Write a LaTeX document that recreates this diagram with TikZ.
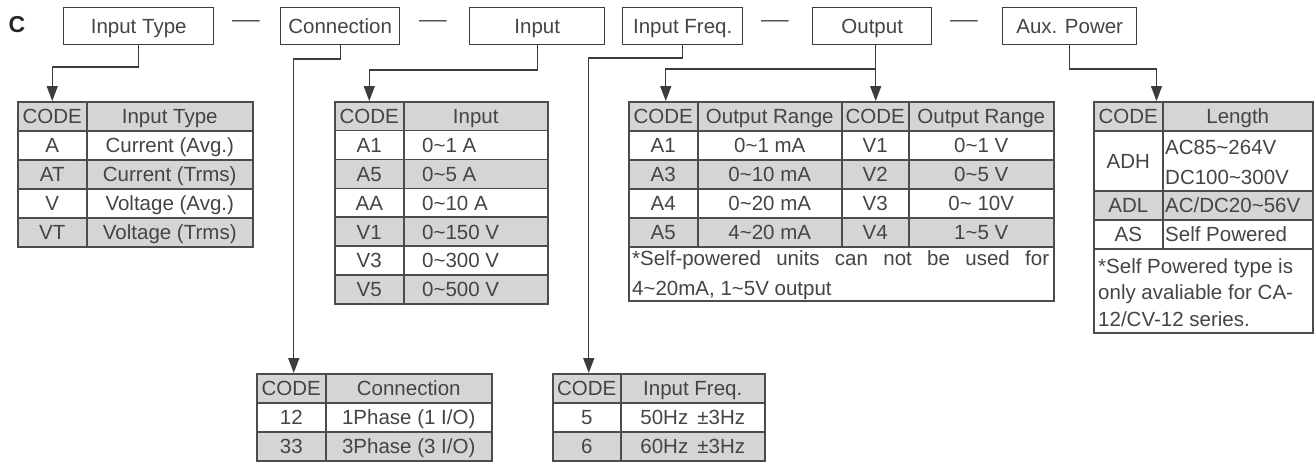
\documentclass[tikz,border=0pt]{standalone}
\usepackage{fontspec}
\usepackage{graphicx}
\setmainfont{Liberation Sans}
\usetikzlibrary{arrows.meta}
\definecolor{lc}{HTML}{3C3C3C}
\definecolor{bc}{HTML}{4C4C4C}
\definecolor{gf}{HTML}{D5D5D5}
\definecolor{tc}{HTML}{444444}
\newcommand\tf{\fontsize{20.5}{24}\selectfont}
\newcommand\tld{\textasciitilde}
\tikzset{
  cellbox/.style={draw=bc, line width=1.5pt, inner sep=0pt, anchor=north west, font=\tf, text=tc, text height=15pt, text depth=0pt},
  hbox/.style={draw=lc, line width=1.4pt, inner sep=0pt, anchor=north west, font=\tf, text=tc, minimum height=37pt, text height=15pt, text depth=0pt},
  txt/.style={font=\tf, text=tc, inner sep=0pt, text height=15pt, text depth=0pt},
  ml/.style={text=tc, inner sep=0pt, align=left},
  conn/.style={draw=lc, line width=1.4pt},
  arr/.style={conn, -{Triangle[length=15pt,width=11pt]}},
}
\newcommand\tcell[7]{\node[cellbox,fill=#6,minimum width=#4pt,minimum height=#5pt] (#1) at (#2,#3) {#7};}
\newcommand\tcellL[8]{\node[cellbox,fill=#6,minimum width=#4pt,minimum height=#5pt] (#1) at (#2,#3) {};
  \node[txt,anchor=west] (#1t) at ([xshift=#7pt]#1.west) {#8};}
\begin{document}
\begin{tikzpicture}[x=1pt,y=-1pt]
\fill[white] (0,0) rectangle (1316,464);
\useasboundingbox (0,0) rectangle (1316,464);

% title letter
\node[inner sep=0pt, text=black!85, font=\fontsize{23}{24}\selectfont\bfseries] (lblC) at (17,25) {C};

% header boxes
\node[hbox, minimum width=150pt] (bInType) at (63,7) {Input Type};
\node[hbox, minimum width=119pt] (bConn) at (280,7) {Connection};
\node[hbox, minimum width=135pt] (bInput) at (469,7) {Input};
\node[hbox, minimum width=120pt] (bFreq) at (622,7) {Input Freq.};
\node[hbox, minimum width=119pt] (bOut) at (812,7) {Output};
\node[hbox, minimum width=134pt] (bAux) at (1002,7) {Aux. Power};

% dashes
\node[txt, text height=, text depth=] (d1) at (246,24) {\scalebox{1.35}[1]{—}};
\node[txt, text height=, text depth=] (d2) at (433,24) {\scalebox{1.35}[1]{—}};
\node[txt, text height=, text depth=] (d3) at (775,24) {\scalebox{1.35}[1]{—}};
\node[txt, text height=, text depth=] (d4) at (964,24) {\scalebox{1.35}[1]{—}};

% ---- Table: Input Type
\tcell{t1h0}{17}{101}{69}{29}{gf}{CODE}
\tcell{t1h1}{86}{101}{166}{29}{gf}{Input Type}
\tcell{t1a0}{17}{130}{69}{29}{white}{A}
\tcell{t1a1}{86}{130}{166}{29}{white}{Current (Avg.)}
\tcell{t1b0}{17}{159}{69}{29}{gf}{AT}
\tcell{t1b1}{86}{159}{166}{29}{gf}{Current (Trms)}
\tcell{t1c0}{17}{188}{69}{29}{white}{V}
\tcell{t1c1}{86}{188}{166}{29}{white}{Voltage (Avg.)}
\tcell{t1d0}{17}{217}{69}{29}{gf}{VT}
\tcell{t1d1}{86}{217}{166}{29}{gf}{Voltage (Trms)}

% ---- Table: Input
\tcell{t2h0}{334}{101}{69}{28.86}{gf}{CODE}
\tcell{t2h1}{403}{101}{144}{28.86}{gf}{Input}
\tcell{t2a0}{334}{129.86}{69}{28.86}{white}{A1}
\tcellL{t2a1}{403}{129.86}{144}{28.86}{white}{19}{0\tld 1 A}
\tcell{t2b0}{334}{158.71}{69}{28.86}{gf}{A5}
\tcellL{t2b1}{403}{158.71}{144}{28.86}{gf}{19}{0\tld 5 A}
\tcell{t2c0}{334}{187.57}{69}{28.86}{white}{AA}
\tcellL{t2c1}{403}{187.57}{144}{28.86}{white}{19}{0\tld 10 A}
\tcell{t2d0}{334}{216.43}{69}{28.86}{gf}{V1}
\tcellL{t2d1}{403}{216.43}{144}{28.86}{gf}{19}{0\tld 150 V}
\tcell{t2e0}{334}{245.29}{69}{28.86}{white}{V3}
\tcellL{t2e1}{403}{245.29}{144}{28.86}{white}{19}{0\tld 300 V}
\tcell{t2f0}{334}{274.14}{69}{28.86}{gf}{V5}
\tcellL{t2f1}{403}{274.14}{144}{28.86}{gf}{19}{0\tld 500 V}

% ---- Table: Connection
\tcell{tch0}{256}{373}{69}{29}{gf}{CODE}
\tcell{tch1}{325}{373}{166}{29}{gf}{Connection}
\tcell{tca0}{256}{402}{69}{29}{white}{12}
\tcell{tca1}{325}{402}{166}{29}{white}{1Phase (1 I/O)}
\tcell{tcb0}{256}{431}{69}{29}{gf}{33}
\tcell{tcb1}{325}{431}{166}{29}{gf}{3Phase (3 I/O)}

% ---- Table: Input Freq.
\tcell{tfh0}{552}{373}{68}{29}{gf}{CODE}
\tcell{tfh1}{620}{373}{144}{29}{gf}{Input Freq.}
\tcell{tfa0}{552}{402}{68}{29}{white}{5}
\tcell{tfa1}{620}{402}{144}{29}{white}{50Hz \,±3Hz}
\tcell{tfb0}{552}{431}{68}{29}{gf}{6}
\tcell{tfb1}{620}{431}{144}{29}{gf}{60Hz \,±3Hz}

% ---- Table: Output
\tcell{toh0}{628}{101}{69}{29}{gf}{CODE}
\tcell{toh1}{697}{101}{144}{29}{gf}{Output Range}
\tcell{toh2}{841}{101}{67}{29}{gf}{CODE}
\tcell{toh3}{908}{101}{145}{29}{gf}{Output Range}
\tcell{toa0}{628}{130}{69}{29}{white}{A1}
\tcell{toa1}{697}{130}{144}{29}{white}{0\tld 1 mA}
\tcell{toa2}{841}{130}{67}{29}{white}{V1}
\tcell{toa3}{908}{130}{145}{29}{white}{0\tld 1 V}
\tcell{tob0}{628}{159}{69}{29}{gf}{A3}
\tcell{tob1}{697}{159}{144}{29}{gf}{0\tld 10 mA}
\tcell{tob2}{841}{159}{67}{29}{gf}{V2}
\tcell{tob3}{908}{159}{145}{29}{gf}{0\tld 5 V}
\tcell{toc0}{628}{188}{69}{29}{white}{A4}
\tcell{toc1}{697}{188}{144}{29}{white}{0\tld 20 mA}
\tcell{toc2}{841}{188}{67}{29}{white}{V3}
\tcell{toc3}{908}{188}{145}{29}{white}{0\tld\ 10V}
\tcell{tod0}{628}{217}{69}{29}{gf}{A5}
\tcell{tod1}{697}{217}{144}{29}{gf}{4\tld 20 mA}
\tcell{tod2}{841}{217}{67}{29}{gf}{V4}
\tcell{tod3}{908}{217}{145}{29}{gf}{1\tld 5 V}
\node[cellbox, fill=white, minimum width=425pt, minimum height=54pt] (toN) at (628,246) {};
\node[ml, anchor=north west, font=\fontsize{20.5}{30}\selectfont] (toNt) at ([xshift=4pt,yshift=-4pt]toN.north west)
  {\makebox[417pt][s]{*Self-powered units can not be used for}\\4\tld 20mA, 1\tld 5V output};

% ---- Table: Aux. Power
\tcell{tah0}{1093}{101}{69}{29}{gf}{CODE}
\tcell{tah1}{1162}{101}{150}{29}{gf}{Length}
\tcell{taa0}{1093}{130}{69}{60}{white}{ADH}
\node[cellbox, fill=white, minimum width=150pt, minimum height=60pt] (taa1) at (1162,130) {};
\node[ml, anchor=north west, font=\fontsize{20.5}{30}\selectfont] (taa1t) at ([xshift=3pt,yshift=-10pt]taa1.north west) {AC85\tld 264V\\DC100\tld 300V};
\tcell{tab0}{1093}{190}{69}{29}{gf}{ADL}
\tcellL{tab1}{1162}{190}{150}{29}{gf}{3}{AC/DC20\tld 56V}
\tcell{tac0}{1093}{219}{69}{29}{white}{AS}
\tcellL{tac1}{1162}{219}{150}{29}{white}{3}{Self Powered}
\node[cellbox, fill=white, minimum width=219pt, minimum height=84pt] (taN) at (1093,248) {};
\node[ml, anchor=north west, font=\fontsize{20.5}{26.5}\selectfont] (taNt) at ([xshift=5pt,yshift=-10pt]taN.north west)
  {*Self Powered type is\\only avaliable for CA-\\12/CV-12 series.};

% ---- connectors
\draw[arr] (bInType.south) -- (bInType.south |- 0,67) -| (t1h0.north);
\draw[arr] (bConn.south) -- (bConn.south |- 0,59) -| ([xshift=2.5pt]tch0.north);
\draw[arr] (bInput.south) -- (bInput.south |- 0,70) -| (t2h0.north);
\draw[arr] (bFreq.south) -- (bFreq.south |- 0,58) -| ([xshift=2pt]tfh0.north);
\coordinate (oj) at ([xshift=3.5pt]bOut.south |- 0,69);
\draw[arr] ([xshift=3.5pt]bOut.south) -- (oj |- toh2.north);
\draw[arr] (oj) -| ([xshift=2.5pt]toh0.north);
\draw[arr] (bAux.south) -- (bAux.south |- 0,69) -| ([xshift=-7pt]tah0.north east);
\end{tikzpicture}
\end{document}
